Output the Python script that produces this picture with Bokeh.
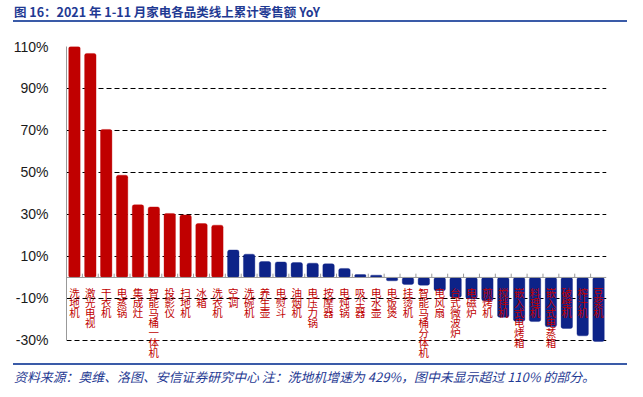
from bokeh.plotting import figure
from bokeh.models import (ColumnDataSource, LabelSet, Span, FixedTicker, PrintfTickFormatter,
                          Range1d, Div)
from bokeh.layouts import column
from bokeh.core.properties import value
from bokeh.embed import file_html
from bokeh.resources import INLINE

categories = ["洗地机", "激光电视", "干衣机", "电蒸锅", "集成灶", "智能马桶一体机", "投影仪", "扫地机",
              "冰箱", "洗衣机", "空调", "洗碗机", "养生壶", "电熨斗", "油烟机", "电压力锅", "按摩器",
              "电炖锅", "吸尘器", "电水壶", "电饭煲", "挂烫机", "智能马桶分体机", "电风扇", "台式微波炉",
              "电磁炉", "煎烤机", "搅拌机", "嵌入式电烤箱", "料理机", "嵌入式电蒸箱", "破壁机", "榨汁机", "豆浆机"]
yoy = [429, 106.7, 70.5, 48.7, 34.6, 33.6, 30.5, 29.8, 25.7, 24.9, 13.1, 11.1, 7.6, 7.4, 7.1, 6.8,
       6.5, 4.3, 1.4, 1.1, -1.6, -3.3, -3.7, -6.3, -9.5, -10.2, -11.1, -19.0, -20.8, -21.0, -23.5,
       -24.3, -27.8, -30.5]
n_top_red = 10
y_ticks = [-30, -10, 10, 30, 50, 70, 90, 110]

RED = "#C00000"
BLUE = "#0D2388"
n = len(categories)
idx = list(range(n))
colors = [RED if i < n_top_red else BLUE for i in idx]

src = ColumnDataSource(dict(x=idx, top=yoy, color=colors,
                            label=["\n".join(c) for c in categories],
                            ly=[-3.8] * n))

p = figure(width=627, height=339, output_backend="svg", toolbar_location=None,
           x_range=Range1d(-0.5, n - 0.5), y_range=Range1d(-40.5, 110),
           min_border_left=66, min_border_right=21, min_border_top=22, min_border_bottom=1)
p.outline_line_color = None
p.background_fill_color = "white"
p.border_fill_color = "white"
p.xaxis.visible = False
p.xgrid.visible = False

p.ygrid.ticker = FixedTicker(ticks=y_ticks)
p.ygrid.grid_line_color = "black"
p.ygrid.grid_line_dash = "5 3"
p.ygrid.grid_line_width = 1.2

ax = p.yaxis[0]
ax.ticker = FixedTicker(ticks=y_ticks)
ax.bounds = (-30, 110)
ax.formatter = PrintfTickFormatter(format="%d%%")
ax.axis_line_color = "#999999"
ax.major_tick_line_color = None
ax.minor_tick_line_color = None
ax.major_label_text_font = "Liberation Sans"
ax.major_label_text_font_size = "14px"
ax.major_label_text_color = "#1a1a1a"
ax.major_label_standoff = 12

p.vbar(x="x", top="top", width=0.72, bottom=0, color="color", source=src,
       line_color="color", line_alpha=0.35, line_width=1, border_radius=2)

p.add_layout(Span(location=0, dimension="width", line_color="#999999", line_width=1))
p.segment(x0=[i + 0.5 for i in idx[:-1]], x1=[i + 0.5 for i in idx[:-1]],
          y0=[0] * (n - 1), y1=[1.8] * (n - 1), line_color="#999999", line_width=1)

labels = LabelSet(x="x", y="ly", text="label", source=src, text_align="center",
                  text_baseline="top", text_font=value("Noto Sans CJK SC"),
                  text_font_size="10.5px", text_line_height=0.66, text_color=RED)
p.add_layout(labels)

title = Div(text='<div style="margin-left:13px;width:614px;height:22px;border-bottom:2px solid #3A5BA8;'
                 'padding-left:1px;font-family:\'Noto Sans CJK SC\';font-weight:bold;font-size:12.5px;'
                 'line-height:24px;color:#1F3A93;white-space:nowrap;">'
                 '图 16：2021 年 1-11 月家电各品类线上累计零售额 YoY</div>',
            width=627, height=24, margin=(0, 0, 0, 0))

source = Div(text='<div style="margin-left:13px;width:614px;border-top:2px solid #3A5BA8;'
                  'padding-left:1px;padding-top:5px;font-family:\'Noto Sans CJK SC\';font-style:italic;'
                  'font-size:12.9px;line-height:14px;color:#1F3A93;white-space:nowrap;">'
                  '资料来源：奥维、洛图、安信证券研究中心 注：洗地机增速为 429%，图中未显示超过 110% 的部分。</div>',
             width=627, height=26, margin=(0, 0, 0, 0))

layout = column(title, p, source, spacing=0)
open("out.html", "w").write(file_html(layout, INLINE))
